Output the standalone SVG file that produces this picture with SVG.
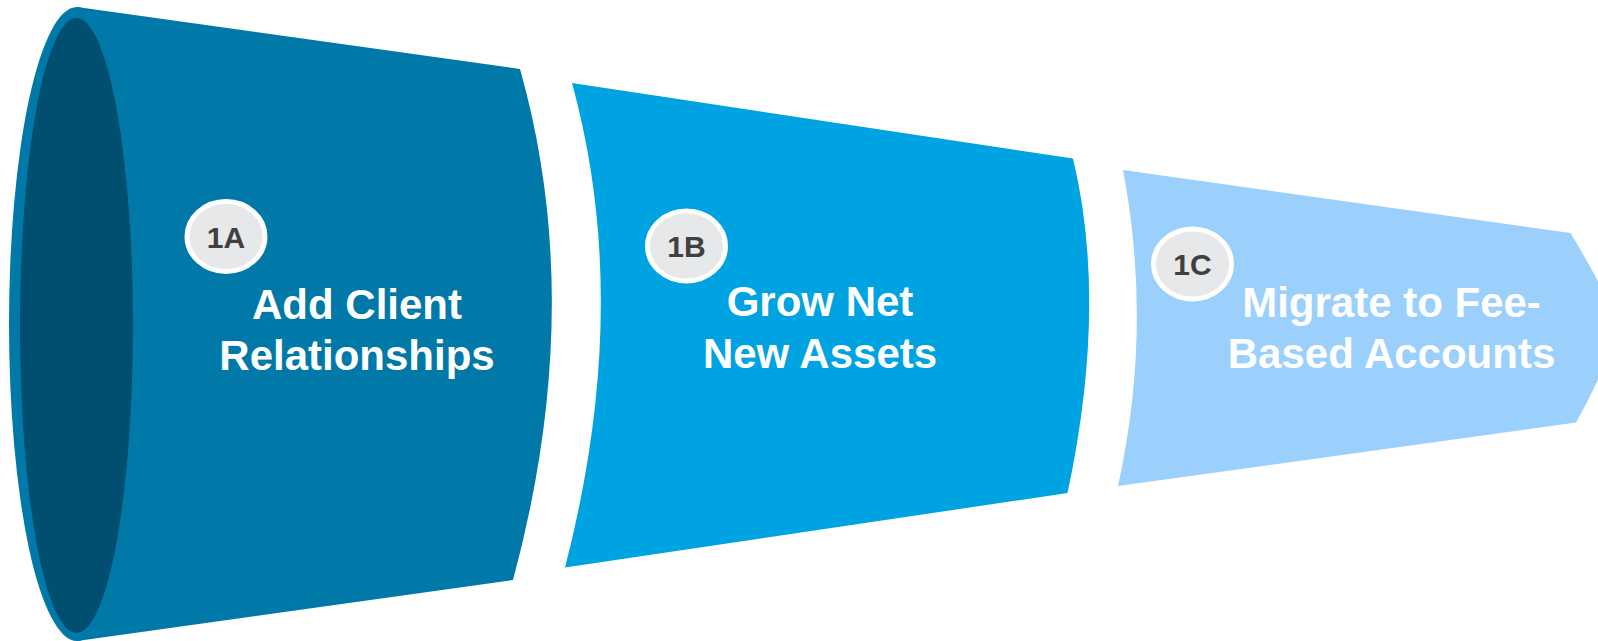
<svg xmlns="http://www.w3.org/2000/svg" width="1598" height="641" viewBox="0 0 1598 641">
  <style>
    .label { font-family: "Liberation Sans", Arial, sans-serif; font-weight: bold; font-size: 42px; fill: #ffffff; text-anchor: middle; }
    .badge-ring { fill: #e7e8ea; stroke: #ffffff; stroke-width: 5; }
    .badge-text { font-family: "Liberation Sans", Arial, sans-serif; font-weight: bold; font-size: 30px; fill: #404040; text-anchor: middle; }
  </style>
  <rect width="1598" height="641" fill="#ffffff"/>

  <!-- Stage 1A: wide mouth of the funnel -->
  <g id="stage-1a">
    <path d="M77,7 L520,69 Q587,306 513,580 L77,641 Z" fill="#0079a9"/>
    <ellipse cx="77" cy="324" rx="68" ry="317" fill="#0079a9"/>
    <ellipse cx="76.5" cy="325.5" rx="56.5" ry="307.5" fill="#004f71"/>
    <ellipse class="badge-ring" cx="226" cy="236.5" rx="39" ry="35"/>
    <text class="badge-text" x="226" y="247.5">1A</text>
    <text class="label" x="357" y="319">Add Client</text>
    <text class="label" x="357" y="370">Relationships</text>
  </g>

  <!-- Stage 1B: middle section -->
  <g id="stage-1b">
    <path d="M572,83 L1073,158.5 Q1108,304 1067.5,493 L565,567.5 Q633,305 572,83 Z" fill="#00a3e1"/>
    <ellipse class="badge-ring" cx="686.5" cy="246" rx="39" ry="35"/>
    <text class="badge-text" x="686.5" y="257">1B</text>
    <text class="label" x="820" y="315.5">Grow Net</text>
    <text class="label" x="820" y="368">New Assets</text>
  </g>

  <!-- Stage 1C: narrow outlet -->
  <g id="stage-1c">
    <path d="M1123,170 L1570.5,233 Q1605,290 1620,328 Q1600,380 1576,422.5 L1118,486 Q1153,328 1123,170 Z" fill="#9bd0fc"/>
    <ellipse class="badge-ring" cx="1192.5" cy="264" rx="39" ry="35"/>
    <text class="badge-text" x="1192.5" y="275">1C</text>
    <text class="label" x="1391.5" y="316.5">Migrate to Fee-</text>
    <text class="label" x="1391.5" y="368">Based Accounts</text>
  </g>

  <g id="connectors"/>
</svg>
